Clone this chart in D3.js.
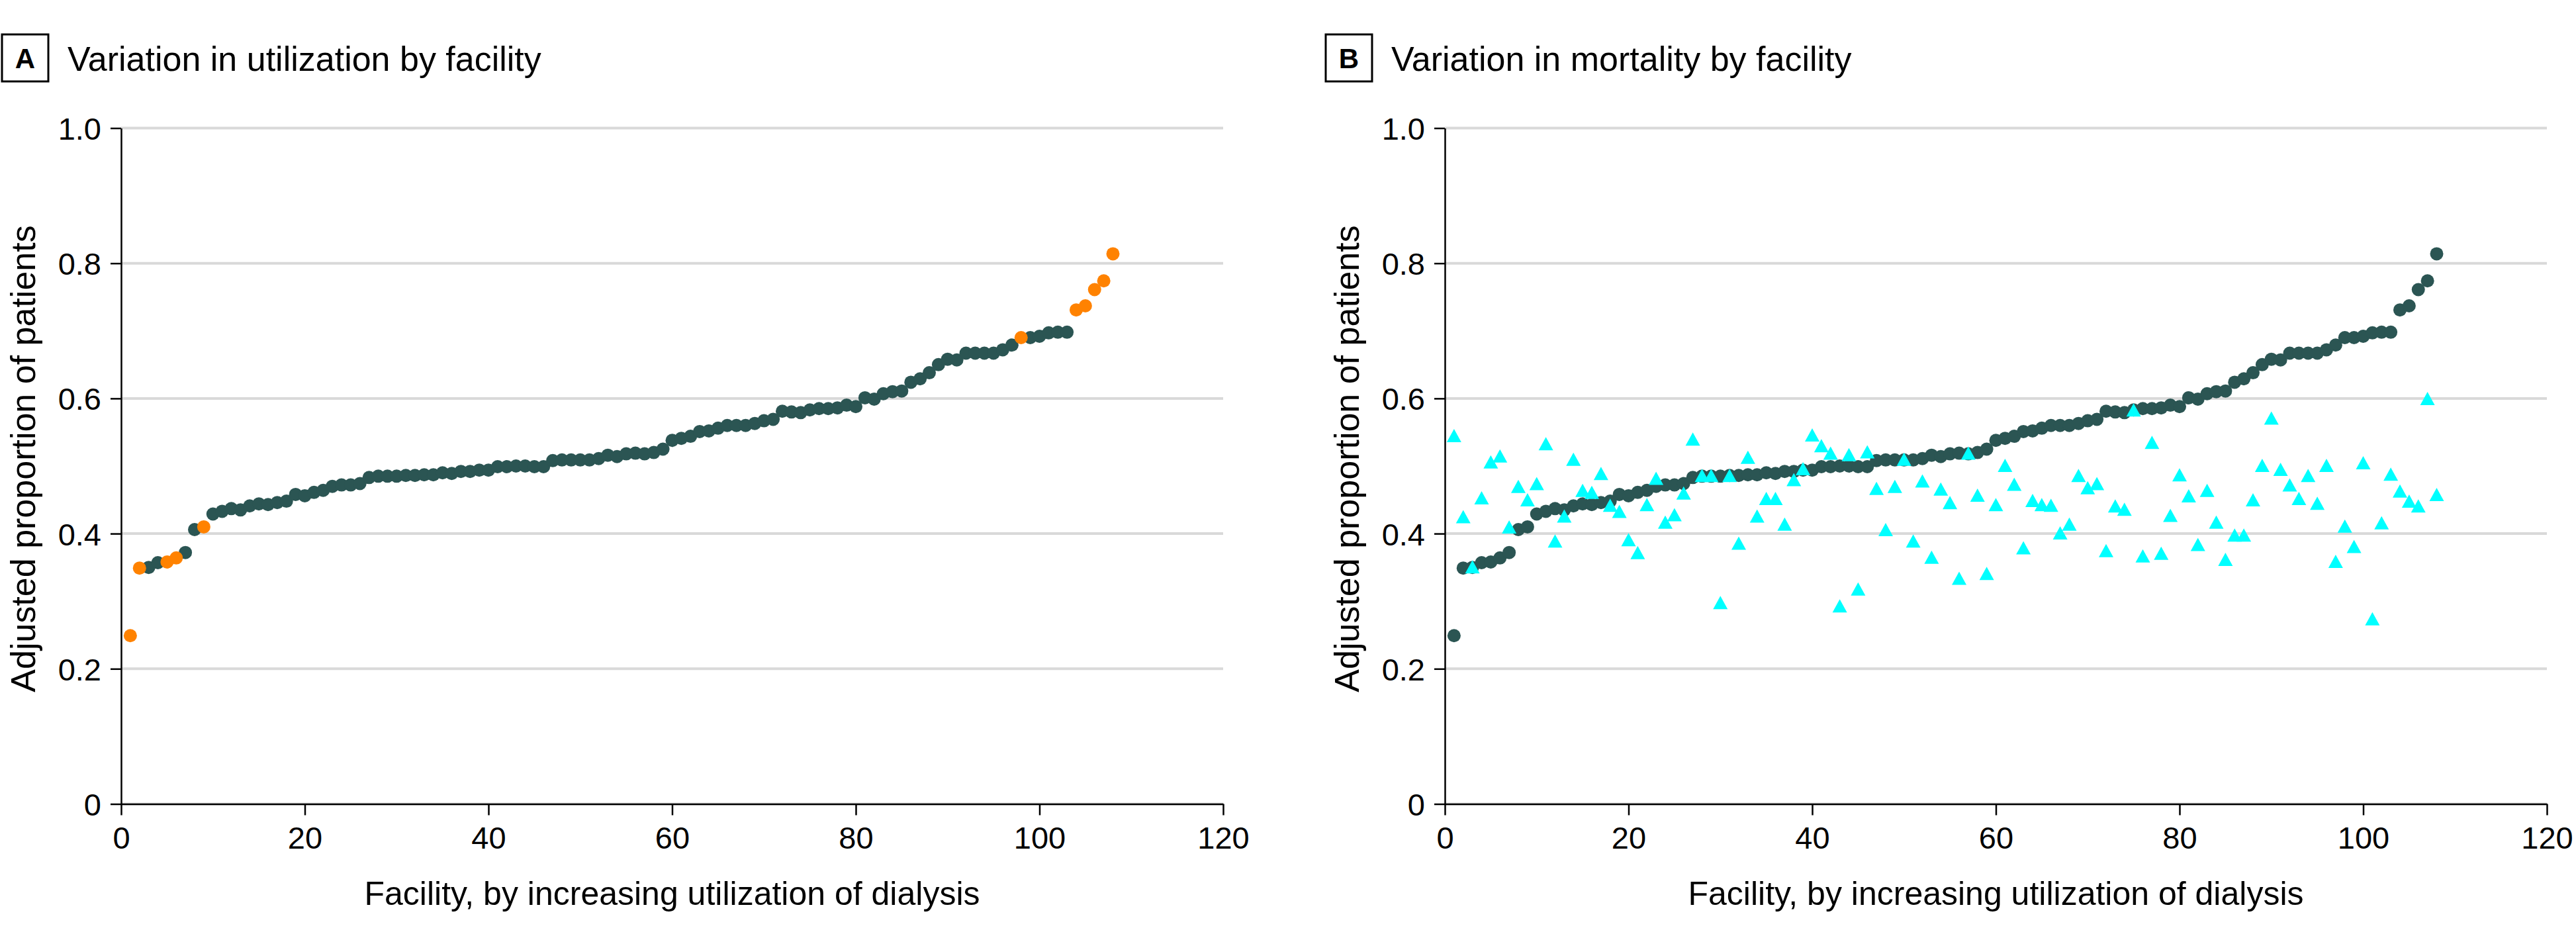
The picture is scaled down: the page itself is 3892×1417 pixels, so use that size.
<!DOCTYPE html>
<html>
<head>
<meta charset="utf-8">
<script src="https://cdn.jsdelivr.net/npm/d3@7"></script>
<style>
  html, body { margin: 0; padding: 0; background: #fff; }
  svg { display: block; }
  text { font-family: "Liberation Sans", Arial, sans-serif; fill: #000; }
</style>
</head>
<body>
<svg id="chart" width="3892" height="1417"></svg>
<script>
// ---------- data ----------
const panelLetters = ["A", "B"];
const panelTitles = ["Variation in utilization by facility", "Variation in mortality by facility"];
const xAxisTitle = "Facility, by increasing utilization of dialysis";
const yAxisTitle = "Adjusted proportion of patients";
const xTicks = [0, 20, 40, 60, 80, 100, 120];
const xTickLabels = ["0", "20", "40", "60", "80", "100", "120"];
const yTicks = [0, 0.2, 0.4, 0.6, 0.8, 1.0];
const yTickLabels = ["0", "0.2", "0.4", "0.6", "0.8", "1.0"];

// adjusted utilization of dialysis, facilities 1..108 (sorted)
const utilization = [
  0.249, 0.349, 0.350, 0.357, 0.358, 0.364, 0.372, 0.406, 0.410, 0.429,
  0.433, 0.437, 0.435, 0.441, 0.444, 0.443, 0.446, 0.448, 0.458, 0.456,
  0.461, 0.464, 0.470, 0.472, 0.472, 0.474, 0.483, 0.485, 0.485, 0.485,
  0.486, 0.486, 0.487, 0.487, 0.490, 0.489, 0.492, 0.492, 0.494, 0.494,
  0.499, 0.499, 0.500, 0.500, 0.499, 0.499, 0.508, 0.509, 0.509, 0.509,
  0.509, 0.511, 0.516, 0.514, 0.518, 0.519, 0.518, 0.520, 0.525, 0.538,
  0.541, 0.544, 0.551, 0.552, 0.556, 0.560, 0.560, 0.560, 0.563, 0.567,
  0.569, 0.581, 0.580, 0.579, 0.583, 0.585, 0.585, 0.586, 0.590, 0.588,
  0.601, 0.599, 0.607, 0.610, 0.611, 0.624, 0.629, 0.638, 0.650, 0.658,
  0.657, 0.667, 0.667, 0.667, 0.667, 0.672, 0.679, 0.690, 0.690, 0.692,
  0.697, 0.698, 0.698, 0.731, 0.737, 0.761, 0.774, 0.814
];
// facilities highlighted in orange in panel A
const highlighted = [1, 2, 5, 6, 9, 98, 104, 105, 106, 107, 108];
// adjusted mortality, facilities 1..108
const mortality = [
  0.545, 0.425, 0.351, 0.453, 0.506, 0.515, 0.410, 0.470, 0.450, 0.474,
  0.533, 0.389, 0.426, 0.510, 0.464, 0.461, 0.489, 0.442, 0.433, 0.391,
  0.372, 0.443, 0.482, 0.417, 0.428, 0.460, 0.540, 0.486, 0.486, 0.298,
  0.486, 0.386, 0.513, 0.426, 0.452, 0.452, 0.414, 0.480, 0.496, 0.546,
  0.530, 0.519, 0.293, 0.517, 0.318, 0.521, 0.467, 0.406, 0.470, 0.510,
  0.389, 0.478, 0.365, 0.466, 0.446, 0.334, 0.519, 0.457, 0.341, 0.443,
  0.501, 0.473, 0.379, 0.449, 0.443, 0.442, 0.401, 0.414, 0.486, 0.468,
  0.474, 0.375, 0.441, 0.436, 0.583, 0.367, 0.535, 0.371, 0.427, 0.487,
  0.456, 0.384, 0.464, 0.417, 0.362, 0.398, 0.398, 0.450, 0.501, 0.571,
  0.495, 0.472, 0.452, 0.486, 0.445, 0.501, 0.359, 0.411, 0.381, 0.505,
  0.274, 0.416, 0.488, 0.463, 0.448, 0.441, 0.600, 0.458
];

// ---------- styling ----------
const C_DARK = "#2b5553", C_ORANGE = "#ff8200", C_CYAN = "#00ffff", C_GRID = "#d9d9d9";
const svg = d3.select("#chart");
const panelOffsets = [0, 2000];

panelOffsets.forEach((off, p) => {
  const g = svg.append("g").attr("transform", `translate(${off},0)`);
  const x = d3.scaleLinear().domain([0, 120]).range([183, 1848]);
  const y = d3.scaleLinear().domain([0, 1]).range([1214.5, 193.5]);

  // panel header
  g.append("rect").attr("x", 3).attr("y", 52).attr("width", 70).attr("height", 71)
    .attr("fill", "none").attr("stroke", "#000").attr("stroke-width", 3);
  g.append("text").attr("x", 38).attr("y", 103).attr("text-anchor", "middle")
    .attr("font-size", 42).attr("font-weight", "bold").text(panelLetters[p]);
  g.append("text").attr("x", 102).attr("y", 107).attr("font-size", 52).text(panelTitles[p]);

  // gridlines
  g.append("g").selectAll("line").data(yTicks).join("line")
    .attr("x1", x(0)).attr("x2", x(120)).attr("y1", d => y(d)).attr("y2", d => y(d))
    .attr("stroke", C_GRID).attr("stroke-width", 4);

  // axes
  const yAxis = d3.axisLeft(y).tickValues(yTicks).tickSize(16).tickSizeOuter(0).tickPadding(14)
    .tickFormat((d, i) => yTickLabels[i]);
  const ya = g.append("g").attr("transform", `translate(${x(0)},0)`).call(yAxis);
  ya.select(".domain").attr("stroke", "#000").attr("stroke-width", 2.5);
  ya.selectAll(".tick line").attr("stroke", "#000").attr("stroke-width", 2.5);
  ya.selectAll(".tick text").attr("font-size", 47).attr("font-family", "Liberation Sans, Arial, sans-serif").attr("fill", "#000").attr("dy", "0.36em");

  const xAxis = d3.axisBottom(x).tickValues(xTicks).tickSize(17).tickSizeOuter(0).tickPadding(17)
    .tickFormat((d, i) => xTickLabels[i]);
  const xa = g.append("g").attr("transform", `translate(0,${y(0)})`).call(xAxis);
  xa.select(".domain").attr("stroke", "#000").attr("stroke-width", 2.5);
  xa.selectAll(".tick line").attr("stroke", "#000").attr("stroke-width", 2.5);
  xa.selectAll(".tick text").attr("font-size", 47).attr("font-family", "Liberation Sans, Arial, sans-serif").attr("fill", "#000");

  // axis titles
  g.append("text").attr("x", (x(0) + x(120)) / 2).attr("y", 1367).attr("text-anchor", "middle")
    .attr("font-size", 50).text(xAxisTitle);
  g.append("text").attr("transform", `translate(53,693) rotate(-90)`)
    .attr("text-anchor", "middle").attr("font-size", 52).text(yAxisTitle);

  // data
  const pts = utilization.map((v, i) => ({ f: i + 1, v }));
  const dots = g.append("g");
  if (p === 0) {
    dots.selectAll("circle.d").data(pts.filter(d => !highlighted.includes(d.f))).join("circle")
      .attr("class", "d").attr("cx", d => x(d.f)).attr("cy", d => y(d.v)).attr("r", 10).attr("fill", C_DARK);
    dots.selectAll("circle.o").data(pts.filter(d => highlighted.includes(d.f))).join("circle")
      .attr("class", "o").attr("cx", d => x(d.f)).attr("cy", d => y(d.v)).attr("r", 10).attr("fill", C_ORANGE);
  } else {
    dots.selectAll("circle.d").data(pts).join("circle")
      .attr("class", "d").attr("cx", d => x(d.f)).attr("cy", d => y(d.v)).attr("r", 10).attr("fill", C_DARK);
    const tri = "M0,-10L11,10L-11,10Z";
    dots.selectAll("path.t").data(mortality.map((v, i) => ({ f: i + 1, v }))).join("path")
      .attr("class", "t").attr("d", tri)
      .attr("transform", d => `translate(${x(d.f)},${y(d.v)})`).attr("fill", C_CYAN);
  }
});
</script>
</body>
</html>
